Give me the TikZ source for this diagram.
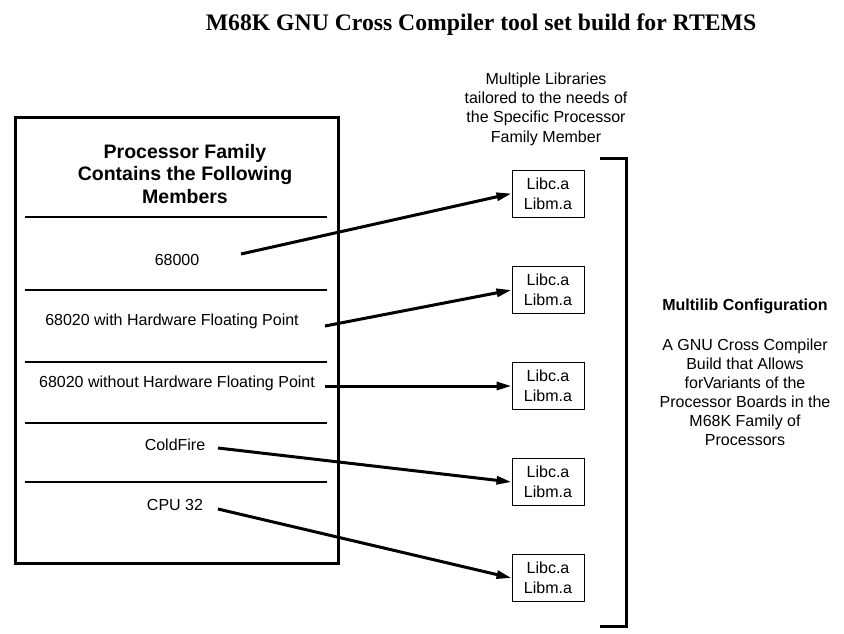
\documentclass[tikz,border=0pt]{standalone}
\usepackage{fontspec}
\setmainfont{Liberation Sans}
\newfontfamily\titlefont{Liberation Serif}
\usetikzlibrary{arrows.meta}

\begin{document}
\begin{tikzpicture}[x=1pt, y=-1pt, >={Triangle[length=15pt,width=8pt]},
  txt/.style={align=center, inner sep=0pt, font=\fontsize{16}{19.3}\selectfont},
  head/.style={align=center, inner sep=0pt, font=\fontsize{19.5}{22.5}\selectfont\bfseries},
  lib/.style={draw=black, line width=1pt, minimum width=72pt, minimum height=47pt, inner sep=0pt, align=center, font=\fontsize{16}{20}\selectfont},
  link/.style={->, line width=3pt},
  sep/.style={line width=2pt}]
\useasboundingbox (0,0) rectangle (844,633);
\node[inner sep=0pt, font=\titlefont\fontsize{23.7}{28}\selectfont\bfseries] (title) at (481,25) {M68K GNU Cross Compiler tool set build for RTEMS};
% processor family box
\draw[line width=3pt] (15,117) rectangle (338,563);
\node[head] (family) at (185,174) {Processor Family\\Contains the Following\\Members};
\draw[sep] (25,217) -- (327,217);
\draw[sep] (25,290) -- (327,290);
\draw[sep] (25,362) -- (327,362);
\draw[sep] (25,423) -- (327,423);
\draw[sep] (25,482) -- (327,482);
\node[txt] (m68000) at (177,260) {68000};
\node[txt] (m68020hw) at (172,321) {68020 with Hardware Floating Point};
\node[txt] (m68020sw) at (177,383) {68020 without Hardware Floating Point};
\node[txt] (coldfire) at (175,445) {ColdFire};
\node[txt] (cpu32) at (175,505) {CPU 32};
% libraries
\node[txt] (libnote) at (546,109) {Multiple Libraries\\tailored to the needs of\\the Specific Processor\\Family Member};
\node[lib] (libA) at (548,193.5) {Libc.a\\Libm.a};
\node[lib] (libB) at (548,290) {Libc.a\\Libm.a};
\node[lib] (libC) at (548,386) {Libc.a\\Libm.a};
\node[lib] (libD) at (548,482) {Libc.a\\Libm.a};
\node[lib] (libE) at (548,578) {Libc.a\\Libm.a};
% arrows
\coordinate (fromA) at (241,254);
\coordinate (fromB) at (325,326);
\coordinate (fromC) at (325,386);
\coordinate (fromD) at (218,448);
\coordinate (fromE) at (218,509);
\draw[link] (fromA) -- (libA.west);
\draw[link] (fromB) -- (libB.west);
\draw[link] (fromC) -- (libC.west);
\draw[link] (fromD) -- (libD.west);
\draw[link] (fromE) -- (libE.west);
% bracket and configuration note
\draw[line width=3pt] (600,158) -- (626,158) -- (626,626) -- (600,626);
\node[inner sep=0pt, font=\fontsize{16}{19}\selectfont\bfseries] (multilib) at (745,306) {Multilib Configuration};
\node[txt, font=\fontsize{16}{19}\selectfont] (config) at (745,392.5) {A GNU Cross Compiler\\Build that Allows\\forVariants of the\\Processor Boards in the\\M68K Family of\\Processors};
\end{tikzpicture}
\end{document}
